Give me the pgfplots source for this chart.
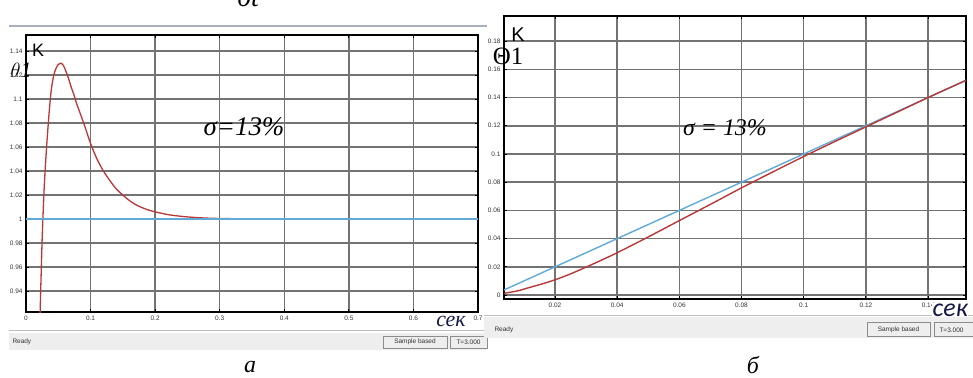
\documentclass[border=0pt]{standalone}
\usepackage{pgfplots}
\pgfplotsset{compat=1.18}
\usepackage{fontspec}
\setmainfont{Liberation Serif}
\setsansfont{Liberation Sans}
\newfontfamily\calib{Carlito}

\definecolor{scRed}{RGB}{185,55,55}
\definecolor{scBlue}{RGB}{95,170,215}
\definecolor{barGray}{RGB}{238,238,238}
\definecolor{edgeGray}{RGB}{168,176,186}
\definecolor{navy}{RGB}{20,25,70}

% step response of the loop (overshoot 13%)
\pgfplotstableread{
t      y
0.0210 0.905
0.0220 0.925
0.0235 0.955
0.0250 0.983
0.0265 1.005
0.0280 1.024
0.0300 1.044
0.0320 1.061
0.0340 1.076
0.0360 1.090
0.0380 1.102
0.0400 1.111
0.0430 1.120
0.0460 1.125
0.0500 1.129
0.0540 1.130
0.0580 1.128
0.0620 1.123
0.0660 1.117
0.0700 1.110
0.0740 1.104
0.0780 1.097
0.0820 1.091
0.0860 1.085
0.0900 1.079
0.0950 1.071
0.1000 1.063
0.1100 1.050
0.1200 1.040
0.1300 1.032
0.1400 1.025
0.1500 1.020
0.1600 1.0155
0.1700 1.012
0.1800 1.0095
0.1900 1.0075
0.2000 1.006
0.2200 1.0037
0.2400 1.0023
0.2600 1.0014
0.2800 1.0008
0.3000 1.0005
0.3500 1.0001
0.4000 1.0000
0.7000 1.0000
}\stepresp

% ramp response of the loop
\pgfplotstableread{
t      y
0.0036 0.0012
0.0080 0.0030
0.0120 0.0055
0.0160 0.0080
0.0200 0.0108
0.0250 0.0150
0.0300 0.0198
0.0350 0.0248
0.0400 0.0300
0.0500 0.0412
0.0600 0.0528
0.0700 0.0643
0.0800 0.0760
0.0900 0.0872
0.1000 0.0982
0.1100 0.1088
0.1200 0.1192
0.1300 0.1296
0.1400 0.1400
0.1522 0.1522
}\rampresp

\pgfplotsset{
  scope/.style={
    scale only axis,
    axis line style={black, line width=1.6bp},
    grid=major,
    major grid style={black!55, line width=1.5bp},
    tick style={black, line width=0.9bp},
    major tick length=3bp,
    tick align=inside,
    tick label style={font=\fontsize{6.5}{6.5}\selectfont\sffamily, text=black!80},
    /pgf/number format/assume math mode=true,
    clip=true,
  },
}

\begin{document}
\begin{tikzpicture}[x=1bp,y=1bp]
\useasboundingbox (0,0) rectangle (973,377);
\clip (0,0) rectangle (973,377);

% window frame pieces
\draw[edgeGray, line width=2bp] (9,351) -- (487,351);
\fill[barGray] (9,27) rectangle (487,44);
\draw[black!25, line width=0.8bp] (9,47) -- (487,47);
\draw[black!45, line width=0.6bp] (383,29) rectangle (447,41);
\draw[black!45, line width=0.6bp] (450,29) rectangle (487,41);
\node[font=\fontsize{6.5}{6.5}\selectfont\sffamily, anchor=west, text=black!80] at (9,35) {Ready};
\node[font=\fontsize{6.5}{6.5}\selectfont\sffamily, text=black!80] at (415,35) {Sample based};
\node[font=\fontsize{6.5}{6.5}\selectfont\sffamily, text=black!80] at (468.5,35) {T=3.000};

\fill[barGray] (484,39) rectangle (973,60);
\draw[black!25, line width=0.8bp] (484,62) -- (973,62);
\draw[black!45, line width=0.6bp] (867,41) rectangle (930,55);
\draw[black!45, line width=0.6bp] (934,41) rectangle (975,55);
\node[font=\fontsize{6.5}{6.5}\selectfont\sffamily, anchor=west, text=black!80] at (491,47) {Ready};
\node[font=\fontsize{6.5}{6.5}\selectfont\sffamily, text=black!80] at (898.5,47) {Sample based};
\node[font=\fontsize{6.5}{6.5}\selectfont\sffamily, anchor=west, text=black!80] at (936,47) {T=3.000};

% (a) step response
\begin{axis}[scope,
  at={(26bp,65bp)}, anchor=south west,
  width=452bp, height=277bp,
  xmin=0, xmax=0.7, ymin=0.9225, ymax=1.1535,
  xtick={0,0.1,...,0.7},
  ytick={0.94,0.96,0.98,1,1.02,1.04,1.06,1.08,1.1,1.12,1.14},
  yticklabel style={/pgf/number format/fixed, /pgf/number format/precision=2},
  xticklabel style={/pgf/number format/fixed},
]
\addplot[scRed, line width=1.3bp, smooth] table[x=t, y=y] {\stepresp};
\addplot[scBlue, line width=1.5bp] coordinates {(0,1) (0.7,1)};
\end{axis}

% (b) ramp response
\begin{axis}[scope,
  at={(504bp,78bp)}, anchor=south west,
  width=462bp, height=283bp,
  xmin=0.0036, xmax=0.1522, ymin=-0.0028, ymax=0.1978,
  xtick={0.02,0.04,...,0.14},
  ytick={0,0.02,...,0.18},
  yticklabel style={/pgf/number format/fixed, /pgf/number format/precision=2},
  xticklabel style={/pgf/number format/fixed, /pgf/number format/precision=2},
]
\addplot[scBlue, line width=1.4bp] coordinates {(0.0036,0.0036) (0.1522,0.1522)};
\addplot[scRed, line width=1.4bp, smooth] table[x=t, y=y] {\rampresp};
\end{axis}

% annotations
\node[font=\fontsize{18}{18}\selectfont\sffamily] at (38,327) {K};
\node[font=\fontsize{22}{22}\selectfont\itshape] at (21,307) {$\theta$1};
\node[font=\fontsize{27}{27}\selectfont\itshape] at (244,250) {σ=13\%};
\node[font=\fontsize{22}{22}\selectfont\itshape, text=navy, anchor=base] at (451,51) {сек};

\node[font=\fontsize{20}{20}\selectfont\sffamily] at (518,342) {K};
\node[font=\fontsize{25}{25}\selectfont] at (508,321) {Θ1};
\node[font=\fontsize{24}{24}\selectfont\itshape] at (725,249) {σ = 13\%};
\node[font=\fontsize{26}{26}\selectfont\calib\itshape, text=navy, anchor=base west, fill=white, inner sep=0.5bp] at (932,61) {сек};

\node[font=\fontsize{24}{24}\selectfont\itshape, anchor=base] at (250,5) {а};
\node[font=\fontsize{24}{24}\selectfont\itshape, anchor=base] at (753,4) {б};
\node[font=\fontsize{28}{28}\selectfont\itshape, anchor=base] at (248,371) {бt};
\end{tikzpicture}
\end{document}
